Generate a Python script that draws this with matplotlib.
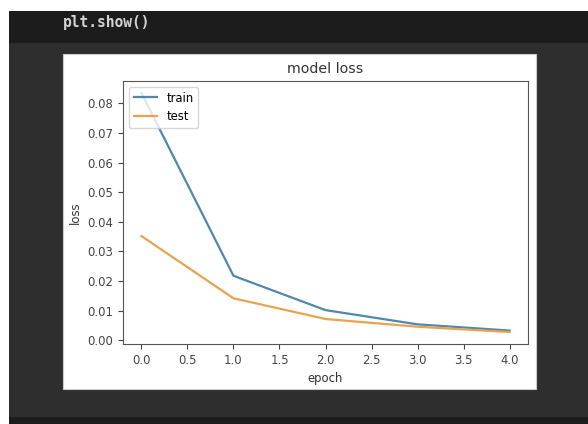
import matplotlib.pyplot as plt
from matplotlib.patches import Rectangle

# loss values
epochs = [0, 1, 2, 3, 4]
train_loss = [0.0835, 0.0218, 0.0102, 0.0054, 0.0033]
test_loss = [0.0352, 0.0142, 0.0072, 0.0046, 0.0028]

W, H = 588, 424
fig = plt.figure(figsize=(W / 100, H / 100), dpi=100)
fig.patch.set_facecolor('white')

# notebook screenshot background
fig.patches.append(Rectangle((9 / W, 0), 1, 1 - 11 / H, transform=fig.transFigure,
                             facecolor='#2e2e2e', edgecolor='none', zorder=-3))
fig.patches.append(Rectangle((9 / W, 1 - 43 / H), 1, 32 / H, transform=fig.transFigure,
                             facecolor='#1c1c1c', edgecolor='none', zorder=-2))
fig.patches.append(Rectangle((9 / W, 0), 1, 7 / H, transform=fig.transFigure,
                             facecolor='#1c1c1c', edgecolor='none', zorder=-2))
# white output panel
fig.patches.append(Rectangle((63 / W, 1 - 389 / H), 473 / W, 335 / H, transform=fig.transFigure,
                             facecolor='white', edgecolor='#cccccc', linewidth=0.8, zorder=-1))
fig.text(63 / W, 1 - 22 / H, 'plt.show()', family='DejaVu Sans Mono', fontsize=10.5,
         fontweight='bold', color='#d4d4d4', va='center', ha='left')

ax = fig.add_axes([123 / W, 1 - 344 / H, (528 - 123) / W, (344 - 81) / H])
ax.plot(epochs, train_loss, color='#4f88ad', linewidth=1.6, label='train')
ax.plot(epochs, test_loss, color='#e9a34e', linewidth=1.6, label='test')
ax.set_title('model loss', fontsize=10.2, color='#333333')
ax.set_xlabel('epoch', fontsize=8.4, color='#333333')
ax.set_ylabel('loss', fontsize=8.4, color='#333333')
ax.tick_params(labelsize=8.4, colors='#444444')
for s in ax.spines.values():
    s.set_color('#555555')
ax.legend(['train', 'test'], loc='upper left', fontsize=8.4)

fig.savefig('out.png', dpi=100)
